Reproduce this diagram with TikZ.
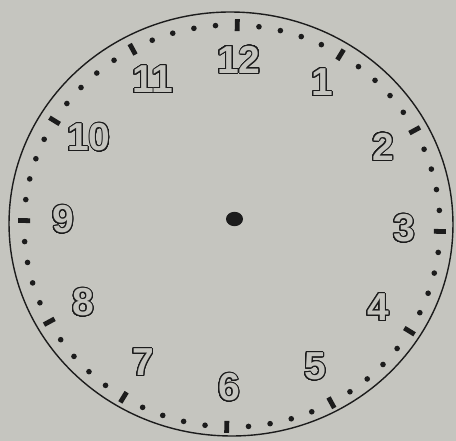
\documentclass[tikz,border=0pt]{standalone}
\usepackage{fontspec}
\setmainfont{Liberation Sans}
\usepackage{contour}
\contourlength{1.0pt}
\contournumber{32}
\definecolor{paper}{RGB}{197,197,191}
\definecolor{ink}{RGB}{28,28,28}
\tikzset{
  num/.style={font=\bfseries\fontsize{39}{39}\selectfont, inner sep=0pt, text=paper},
  rim/.style={draw=ink, line width=1.4pt},
  hourtick/.style={draw=ink, line width=4.8pt},
  minutedot/.style={fill=ink}
}
\newcommand{\hollow}[1]{\contour{ink}{#1}}
\begin{document}
\begin{tikzpicture}[x=1pt,y=-1pt]
\fill[paper] (0,0) rectangle (456,441);
\useasboundingbox (0,0) rectangle (456,441);
% outer rim
\begin{scope}[shift={(231,224)},rotate=-1.5]
  \draw[rim] (0,0) ellipse [x radius=222, y radius=212];
\end{scope}
% minute marks
\begin{scope}[shift={(232,226)},rotate=-1.5]
  \foreach \m in {0,...,59}{
    \pgfmathsetmacro\t{6*\m-90}
    \pgfmathtruncatemacro\r{mod(\m,5)}
    \ifnum\r=0
      \draw[hourtick] (\t:202 and 195) -- (\t:214 and 207);
    \else
      \fill[minutedot] (\t:208 and 201) circle (2.8pt);
    \fi
  }
\end{scope}
% centre
\fill[ink] (234.5,219) ellipse [x radius=8.5, y radius=7.2];
% numerals
\node[num] (n12) at (239,60)  {\hollow{12}};
\node[num] (n1)  at (322,83)  {\hollow{1}};
\node[num] (n2)  at (383,147) {\hollow{2}};
\node[num] (n3)  at (404,229) {\hollow{3}};
\node[num] (n4)  at (378,308) {\hollow{4}};
\node[num] (n5)  at (315,367) {\hollow{5}};
\node[num] (n6)  at (229,388) {\hollow{6}};
\node[num] (n7)  at (143,363) {\hollow{7}};
\node[num] (n8)  at (83,303)  {\hollow{8}};
\node[num] (n9)  at (63,220)  {\hollow{9}};
\node[num] (n10) at (89,138)  {\hollow{10}};
\node[num] (n11) at (153,80)  {\hollow{11}};
\end{tikzpicture}
\end{document}
